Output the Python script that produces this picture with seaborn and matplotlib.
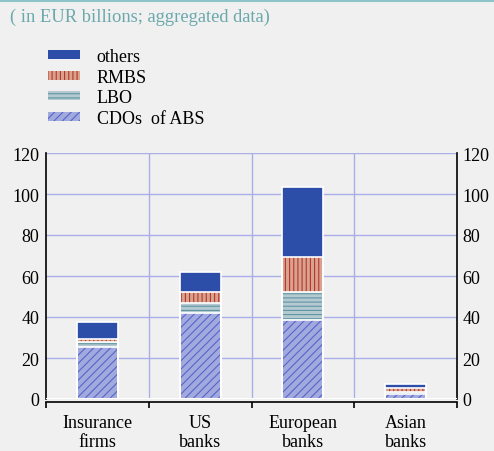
import matplotlib
matplotlib.use("Agg")
import matplotlib.pyplot as plt
import seaborn as sns
import numpy as np
import pandas as pd
from matplotlib.patches import Patch
from matplotlib.lines import Line2D

categories = ["Insurance\nfirms", "US\nbanks", "European\nbanks", "Asian\nbanks"]
series_names = ["CDOs  of ABS", "LBO", "RMBS", "others"]
cdo = [25.5, 42.0, 38.5, 2.5]
lbo = [2.5, 5.0, 13.5, 0.8]
rmbs = [1.5, 5.0, 17.5, 2.0]
others = [8.0, 10.0, 34.0, 2.2]
yticks = [0, 20, 40, 60, 80, 100, 120]

BG = "#f0f0f0"
GRID = "#a9aee6"
faces = {"CDOs  of ABS": "#a2a9de", "LBO": "#b4cad0", "RMBS": "#d9a28e", "others": "#2c4ea8"}
hatchc = {"CDOs  of ABS": "#5566c8", "LBO": "#5f95a3", "RMBS": "#b5382c", "others": "#2c4ea8"}
hatches = {"CDOs  of ABS": "////", "LBO": "----", "RMBS": "||||", "others": None}

sns.set_theme(style="white")
plt.rcParams["font.family"] = ["Liberation Serif", "DejaVu Serif"]
plt.rcParams["hatch.linewidth"] = 0.8
plt.rcParams["text.color"] = "black"
plt.rcParams["xtick.color"] = "black"
plt.rcParams["ytick.color"] = "black"

fig = plt.figure(figsize=(4.94, 4.52), dpi=100, facecolor=BG)
W, H = 494, 452
ax = fig.add_axes([46 / W, (H - 400) / H, (457 - 46) / W, (400 - 154) / H])
ax.set_facecolor(BG)

df = pd.DataFrame({"cat": categories, "CDOs  of ABS": cdo, "LBO": lbo, "RMBS": rmbs, "others": others})
cum = df[series_names].cumsum(axis=1)

# grid
for v in yticks[1:]:
    ax.axhline(v, color=GRID, lw=1, zorder=0)
for b in [0.5, 1.5, 2.5]:
    ax.axvline(b, color=GRID, lw=1, zorder=0)

# stacked bars: draw cumulative from top to bottom
for name in reversed(series_names):
    kw = dict(color=faces[name], saturation=1, width=0.4, linewidth=0, ax=ax, zorder=2)
    if hatches[name]:
        kw.update(edgecolor=hatchc[name], hatch=hatches[name])
    sns.barplot(x=df["cat"], y=cum[name], **kw)
    sns.barplot(x=df["cat"], y=cum[name], color="white", fill=False, saturation=1,
                width=0.4, linewidth=1.2, ax=ax, zorder=3)

ax.axhline(0, color="white", lw=1.5, zorder=4)

ax.set_xlim(-0.5, 3.5)
ax.set_ylim(0, 120)
ax.set_xlabel("")
ax.set_ylabel("")

# y axis ticks
ax.set_yticks(yticks)
ax.tick_params(axis="y", length=0, pad=5, labelsize=13, labelcolor="black")

# x axis: boundary ticks, labels at centers
ax.set_xticks([-0.5, 0.5, 1.5, 2.5, 3.5])
ax.set_xticklabels([])
ax.set_xticks([0, 1, 2, 3], minor=True)
ax.set_xticklabels(categories, minor=True)
ax.tick_params(axis="x", which="major", direction="out", length=4, width=1.2, color="black", bottom=True)
ax.tick_params(axis="x", which="minor", length=0, pad=8, bottom=True, labelsize=13, labelcolor="black")

ax.spines["top"].set_visible(False)
ax.spines["bottom"].set_position(("outward", 2.5))
for s in ["left", "right", "bottom"]:
    ax.spines[s].set_color("black")
    ax.spines[s].set_linewidth(1.2)

ax2 = ax.twinx()
ax2.set_ylim(0, 120)
ax2.set_yticks(yticks)
ax2.tick_params(axis="y", length=0, pad=4, labelsize=13, labelcolor="black")
for s in ["top", "left", "bottom", "right"]:
    ax2.spines[s].set_visible(False)
ax2.grid(False)

# top band and title
fig.add_artist(Line2D([0, 1], [1 - 1.2 / H, 1 - 1.2 / H], color="#8cc4c8", lw=2.2, transform=fig.transFigure))
fig.text(10 / W, 1 - 17.5 / H, "( in EUR billions; aggregated data)", color="#6aa8ac",
         fontsize=13.3, va="center", ha="left")

handles = []
for name in reversed(series_names):
    handles.append(Patch(facecolor=faces[name], edgecolor=hatchc[name], hatch=hatches[name], linewidth=0,
                         label=name))
leg = fig.legend(handles=handles, loc="upper left", bbox_to_anchor=(48 / W, 1 - 49 / H),
                 frameon=False, fontsize=13, handlelength=1.75, handleheight=0.4,
                 labelspacing=0.2, handletextpad=0.95, borderaxespad=0, borderpad=0,
                 labelcolor="black")

fig.savefig("out.png", dpi=100, facecolor=BG)
